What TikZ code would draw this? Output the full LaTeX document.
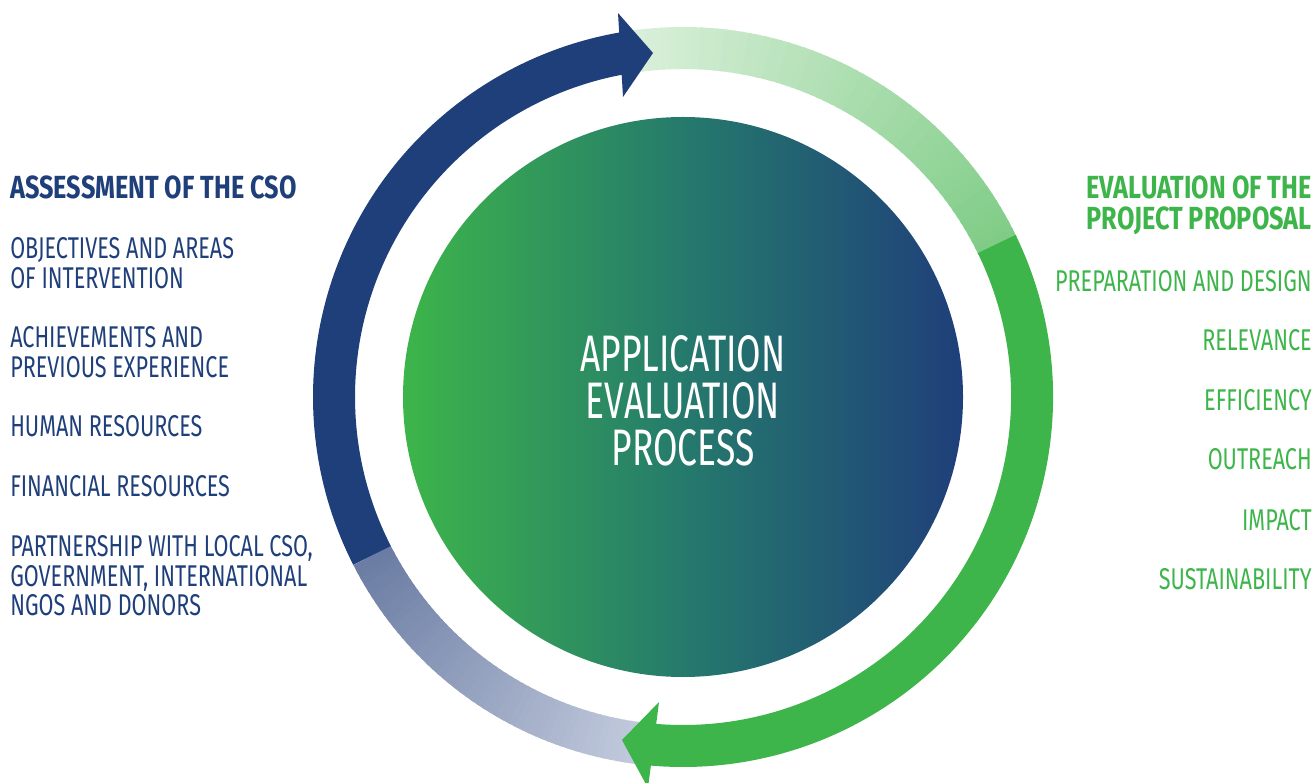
\documentclass[tikz,border=0pt]{standalone}
\usepackage{fontspec}
\setmainfont{Fira Sans}
\newfontfamily\lightf{Fira Sans}[FakeStretch=0.72]
\newfontfamily\centf{Fira Sans}[FakeStretch=0.69]
\newfontfamily\boldf{Fira Sans}[FakeStretch=0.79]
\definecolor{cdark}{HTML}{1F3F7A}
\definecolor{cgreen}{HTML}{3DB54A}
\definecolor{lbA}{HTML}{6A7CA3}
\definecolor{lbB}{HTML}{C3CBDD}
\definecolor{lgA}{HTML}{DDF1DD}
\definecolor{lgB}{HTML}{7FCC86}
\definecolor{midc}{HTML}{257A6C}
\newcommand\gradarc[6]{%
  \foreach \k in {1,...,#6}{%
    \pgfmathsetmacro\aS{#1+(#2-#1)*(\k-1)/#6}%
    \pgfmathsetmacro\aE{#1+(#2-#1)*\k/#6+sign(#2-#1)*0.4}%
    \pgfmathtruncatemacro\pc{100*(\k-0.5)/#6}%
    \colorlet{segc}{#5!\pc!#4}%
    \draw[ring,segc] (\aS:#3) arc[start angle=\aS,end angle=\aE,radius=#3];
  }}
\begin{document}
\begin{tikzpicture}[x=0.75pt,y=0.75pt,
  ring/.style={line width=31.5pt,line cap=butt},
  item/.style={inner sep=0pt,font=\lightf\fontsize{22.5}{24}\selectfont},
  ttl/.style={inner sep=0pt,font=\boldf\bfseries\fontsize{24}{26}\selectfont},
  ltxt/.style={anchor=base west,text=cdark},
  rtxt/.style={anchor=base east,text=cgreen},
  ctxt/.style={inner sep=0pt,anchor=base,text=white,align=center,
    font=\centf\fontsize{38.5}{35.25}\selectfont}]
\useasboundingbox (0,0) rectangle (1316,782);
\begin{scope}[shift={(683,385)}]
  \coordinate (c) at (0,0);
  \shade[left color=cgreen,right color=cdark,middle color=midc] (c) circle[radius=280];
  % light arcs
  \gradarc{101}{26}{349}{lgA}{lgB}{60}
  \gradarc{207}{263}{349}{lbA}{lbB}{50}
  % green solid arc
  \draw[ring,cgreen] (26:349) arc[start angle=26,end angle=-96,radius=349];
  % dark blue arc
  \draw[ring,cdark] (207:349) arc[start angle=207,end angle=99,radius=349];
\end{scope}
% arrowheads
\coordinate (ta1) at (618,769);
\coordinate (ta2) at (623,685);
\coordinate (tat) at (653,729);
\fill[cdark] (ta1) -- (tat) -- (ta2) -- cycle;
\coordinate (ba1) at (659,80);
\coordinate (ba2) at (648,-6);
\coordinate (bat) at (622,42);
\fill[cgreen] (ba1) -- (bat) -- (ba2) -- cycle;
% centre text
\node[ctxt] (ct) at (683,316) {APPLICATION\\EVALUATION\\PROCESS};
% left texts
\node[ttl,ltxt] (lt) at (10,583) {ASSESSMENT OF THE CSO};
\node[item,ltxt] (l1a) at (10,523) {OBJECTIVES AND AREAS};
\node[item,ltxt] (l1b) at (10,493) {OF INTERVENTION};
\node[item,ltxt] (l2a) at (10,434) {ACHIEVEMENTS AND};
\node[item,ltxt] (l2b) at (10,404) {PREVIOUS EXPERIENCE};
\node[item,ltxt] (l3) at (10,345) {HUMAN RESOURCES};
\node[item,ltxt] (l4) at (10,285) {FINANCIAL RESOURCES};
\node[item,ltxt] (l5a) at (10,225) {PARTNERSHIP WITH LOCAL CSO,};
\node[item,ltxt] (l5b) at (10,196) {GOVERNMENT, INTERNATIONAL};
\node[item,ltxt] (l5c) at (10,167) {NGOS AND DONORS};
% right texts
\node[ttl,rtxt] (rt1) at (1312,583) {EVALUATION OF THE};
\node[ttl,rtxt] (rt2) at (1312,552) {PROJECT PROPOSAL};
\node[item,rtxt] (r1) at (1312,490) {PREPARATION AND DESIGN};
\node[item,rtxt] (r2) at (1312,431) {RELEVANCE};
\node[item,rtxt] (r3) at (1312,371) {EFFICIENCY};
\node[item,rtxt] (r4) at (1312,312) {OUTREACH};
\node[item,rtxt] (r5) at (1312,252) {IMPACT};
\node[item,rtxt] (r6) at (1312,193) {SUSTAINABILITY};
\end{tikzpicture}
\end{document}
